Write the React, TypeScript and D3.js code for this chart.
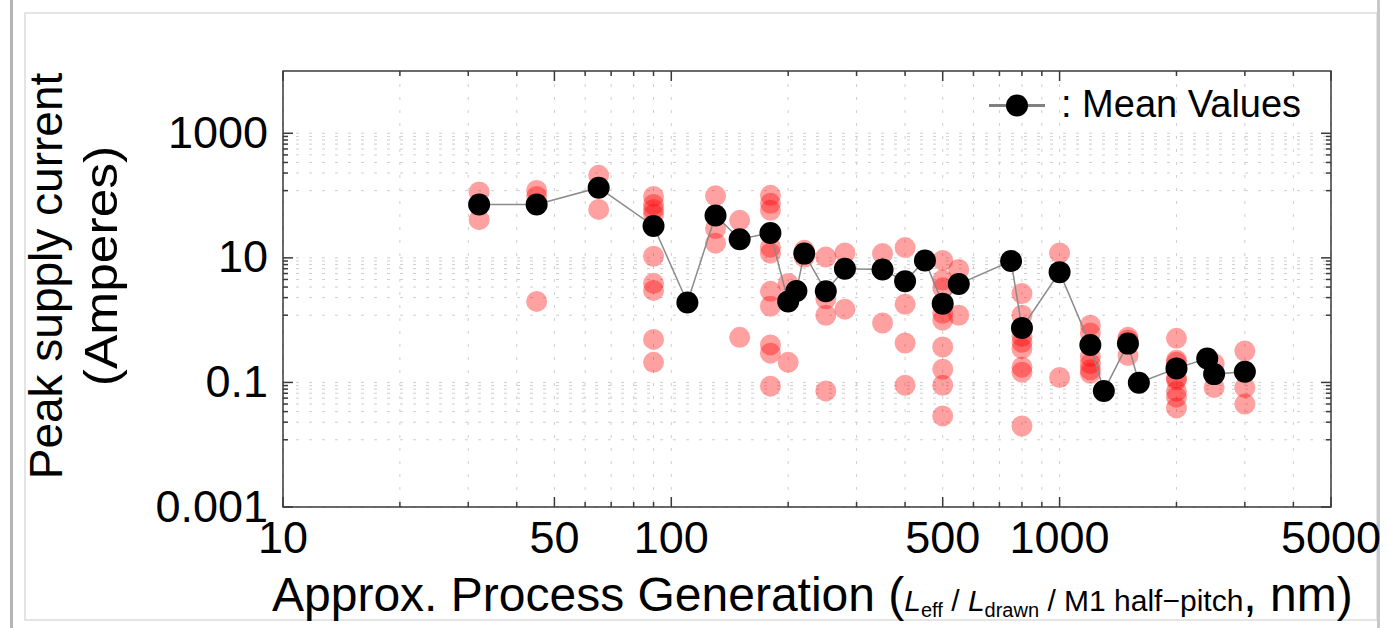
import React from "react";
import * as d3 from "d3";

// process generation (nm) of each column, with the mean and the individual chips
const processNm = [32, 45, 65, 90, 110, 130, 150, 180, 200, 210, 220, 250, 280, 350, 400, 450, 500, 550, 750, 800, 1000, 1200, 1300, 1500, 1600, 2000, 2400, 2500, 3000];
const meanAmps = [72, 72, 134, 32.5, 1.92, 48, 19.9, 25, 2.0, 2.94, 11.7, 2.9, 6.7, 6.5, 4.2, 9.1, 1.84, 3.8, 8.9, 0.75, 5.9, 0.4, 0.073, 0.42, 0.099, 0.168, 0.243, 0.136, 0.148];
const sampleAmps = [
  [114, 41],
  [121, 97, 2.0],
  [211, 60],
  [97, 72, 60, 50, 10.6, 3.9, 3.0, 0.49, 0.21],
  [1.92],
  [99, 29.6, 17.2],
  [40, 0.53],
  [101, 75, 58, 14.8, 11.9, 2.9, 1.67, 0.4, 0.295, 0.087],
  [3.87, 0.21],
  [2.94],
  [13.2, 10.3],
  [10.3, 2.2, 1.2, 0.073],
  [12, 1.5],
  [11.7, 0.9],
  [14.6, 1.8, 0.43, 0.09],
  [9.1],
  [9.1, 4.4, 3.3, 1.29, 1.0, 0.37, 0.163, 0.09, 0.029],
  [6.5, 1.2],
  [8.9],
  [2.67, 1.2, 0.55, 0.44, 0.35, 0.176, 0.146, 0.02],
  [12, 0.12],
  [0.83, 0.62, 0.26, 0.2, 0.16, 0.14],
  [0.073],
  [0.53, 0.48, 0.27],
  [0.099],
  [0.51, 0.228, 0.21, 0.117, 0.11, 0.072, 0.058, 0.039],
  [0.243],
  [0.2, 0.136, 0.083],
  [0.32, 0.148, 0.083, 0.045],
];

const xLabelTicks = [10, 50, 100, 500, 1000, 5000];
const yLabelTicks = [0.001, 0.1, 10, 1000];
const yLabels = ["0.001", "0.1", "10", "1000"];

const W = 1389;
const H = 628;
const left = 283, right = 1331, top = 71, bottom = 507;

// minor ticks: linear steps between labelled ticks
const minorBetween = (majors: number[], parts: number[], max: number) => {
  const out: number[] = [];
  majors.forEach((m, i) => {
    const next = majors[i + 1];
    if (next === undefined) return;
    const step = (next - m) / parts[i];
    for (let k = 1; k < parts[i]; k++) {
      const v = m + step * k;
      if (v < max) out.push(v);
    }
  });
  return out;
};

export default function App() {
  const x = d3.scaleLog().domain([10, 5000]).range([left, right]);
  const y = d3.scaleLog().domain([0.001, 10000]).range([bottom, top]);

  const xMinor = minorBetween(xLabelTicks, [4, 5, 4, 5, 4], 5000);
  const yMinor = minorBetween([0.001, 0.1, 10, 1000], [9, 9, 9], 10000);

  const meanLine = d3
    .line<number>()
    .x((d, i) => x(processNm[i]))
    .y((d) => y(d));

  const samples = processNm.flatMap((nm, i) => sampleAmps[i].map((a) => ({ nm, a })));

  const grid = "#cfcfcf";
  const axis = "#3a3a3a";
  const font = "'Liberation Sans', Arial, Helvetica, sans-serif";

  return (
    <svg width={W} height={H} style={{ position: "absolute", left: 0, top: 0, background: "#fff" }} fontFamily={font}>
      {/* page frame */}
      <rect x={10} y={0} width={3} height={H} fill="#b5b5b5" />
      <rect x={25} y={13} width={1352} height={607} fill="none" stroke="#dcdcdc" strokeWidth={1.5} />
      <rect x={1377} y={0} width={3} height={H} fill="#c8c8c8" />

      {/* grid */}
      <g stroke={grid} strokeWidth={1} strokeDasharray="3,10">
        {[...xLabelTicks, ...xMinor].map((t) => (
          <line key={"gx" + t} x1={x(t)} x2={x(t)} y1={top} y2={bottom} />
        ))}
        {[...yLabelTicks, ...yMinor].map((t) => (
          <line key={"gy" + t} x1={left} x2={right} y1={y(t)} y2={y(t)} />
        ))}
      </g>

      {/* individual chips */}
      <g>
        {samples.map((s, i) => (
          <circle key={i} cx={x(s.nm)} cy={y(s.a)} r={10.5} fill="#ff0000" fillOpacity={0.37} />
        ))}
      </g>

      {/* mean values */}
      <path d={meanLine(meanAmps) || ""} fill="none" stroke="#8a8a8a" strokeWidth={1.5} />
      <g>
        {meanAmps.map((a, i) => (
          <circle key={i} cx={x(processNm[i])} cy={y(a)} r={11} fill="#000" />
        ))}
      </g>

      {/* frame and ticks */}
      <rect x={left} y={top} width={right - left} height={bottom - top} fill="none" stroke={axis} strokeWidth={1.5} />
      <g stroke={axis} strokeWidth={1.5}>
        {xLabelTicks.map((t) => (
          <g key={"tx" + t}>
            <line x1={x(t)} x2={x(t)} y1={bottom} y2={bottom - 10} />
            <line x1={x(t)} x2={x(t)} y1={top} y2={top + 10} />
          </g>
        ))}
        {xMinor.map((t) => (
          <g key={"mx" + t}>
            <line x1={x(t)} x2={x(t)} y1={bottom} y2={bottom - 5} />
            <line x1={x(t)} x2={x(t)} y1={top} y2={top + 5} />
          </g>
        ))}
        {yLabelTicks.map((t) => (
          <g key={"ty" + t}>
            <line x1={left} x2={left + 10} y1={y(t)} y2={y(t)} />
            <line x1={right} x2={right - 10} y1={y(t)} y2={y(t)} />
          </g>
        ))}
        {yMinor.map((t) => (
          <g key={"my" + t}>
            <line x1={left} x2={left + 5} y1={y(t)} y2={y(t)} />
            <line x1={right} x2={right - 5} y1={y(t)} y2={y(t)} />
          </g>
        ))}
      </g>

      {/* tick labels */}
      <g fontSize={45} fill="#000">
        {xLabelTicks.map((t) => (
          <text key={"lx" + t} x={x(t)} y={553} textAnchor="middle">
            {t}
          </text>
        ))}
        {yLabelTicks.map((t, i) => (
          <text key={"ly" + t} x={268} y={y(t) + 14.5} textAnchor="end">
            {yLabels[i]}
          </text>
        ))}
      </g>

      {/* axis titles */}
      <text transform="translate(62,276) rotate(-90)" textAnchor="middle" fontSize={46}>
        Peak supply current
      </text>
      <text transform="translate(117,266) rotate(-90) scale(1.12,1)" textAnchor="middle" fontSize={46}>
        (Amperes)
      </text>
      <text x={272} y={611} fontSize={48}>
        Approx. Process Generation (
        <tspan fontSize={30} fontStyle="italic">L</tspan>
        <tspan fontSize={20} dy={6}>eff</tspan>
        <tspan fontSize={30} dy={-6}> / </tspan>
        <tspan fontSize={30} fontStyle="italic">L</tspan>
        <tspan fontSize={20} dy={6}>drawn</tspan>
        <tspan fontSize={30} dy={-6}> / M1 half−pitch</tspan>
        <tspan>, nm)</tspan>
      </text>

      {/* legend */}
      <line x1={989} x2={1045} y1={105.5} y2={105.5} stroke="#808080" strokeWidth={3} />
      <circle cx={1017} cy={105.5} r={11} fill="#000" />
      <text x={1061} y={116.5} fontSize={38}>
        : Mean Values
      </text>
    </svg>
  );
}
